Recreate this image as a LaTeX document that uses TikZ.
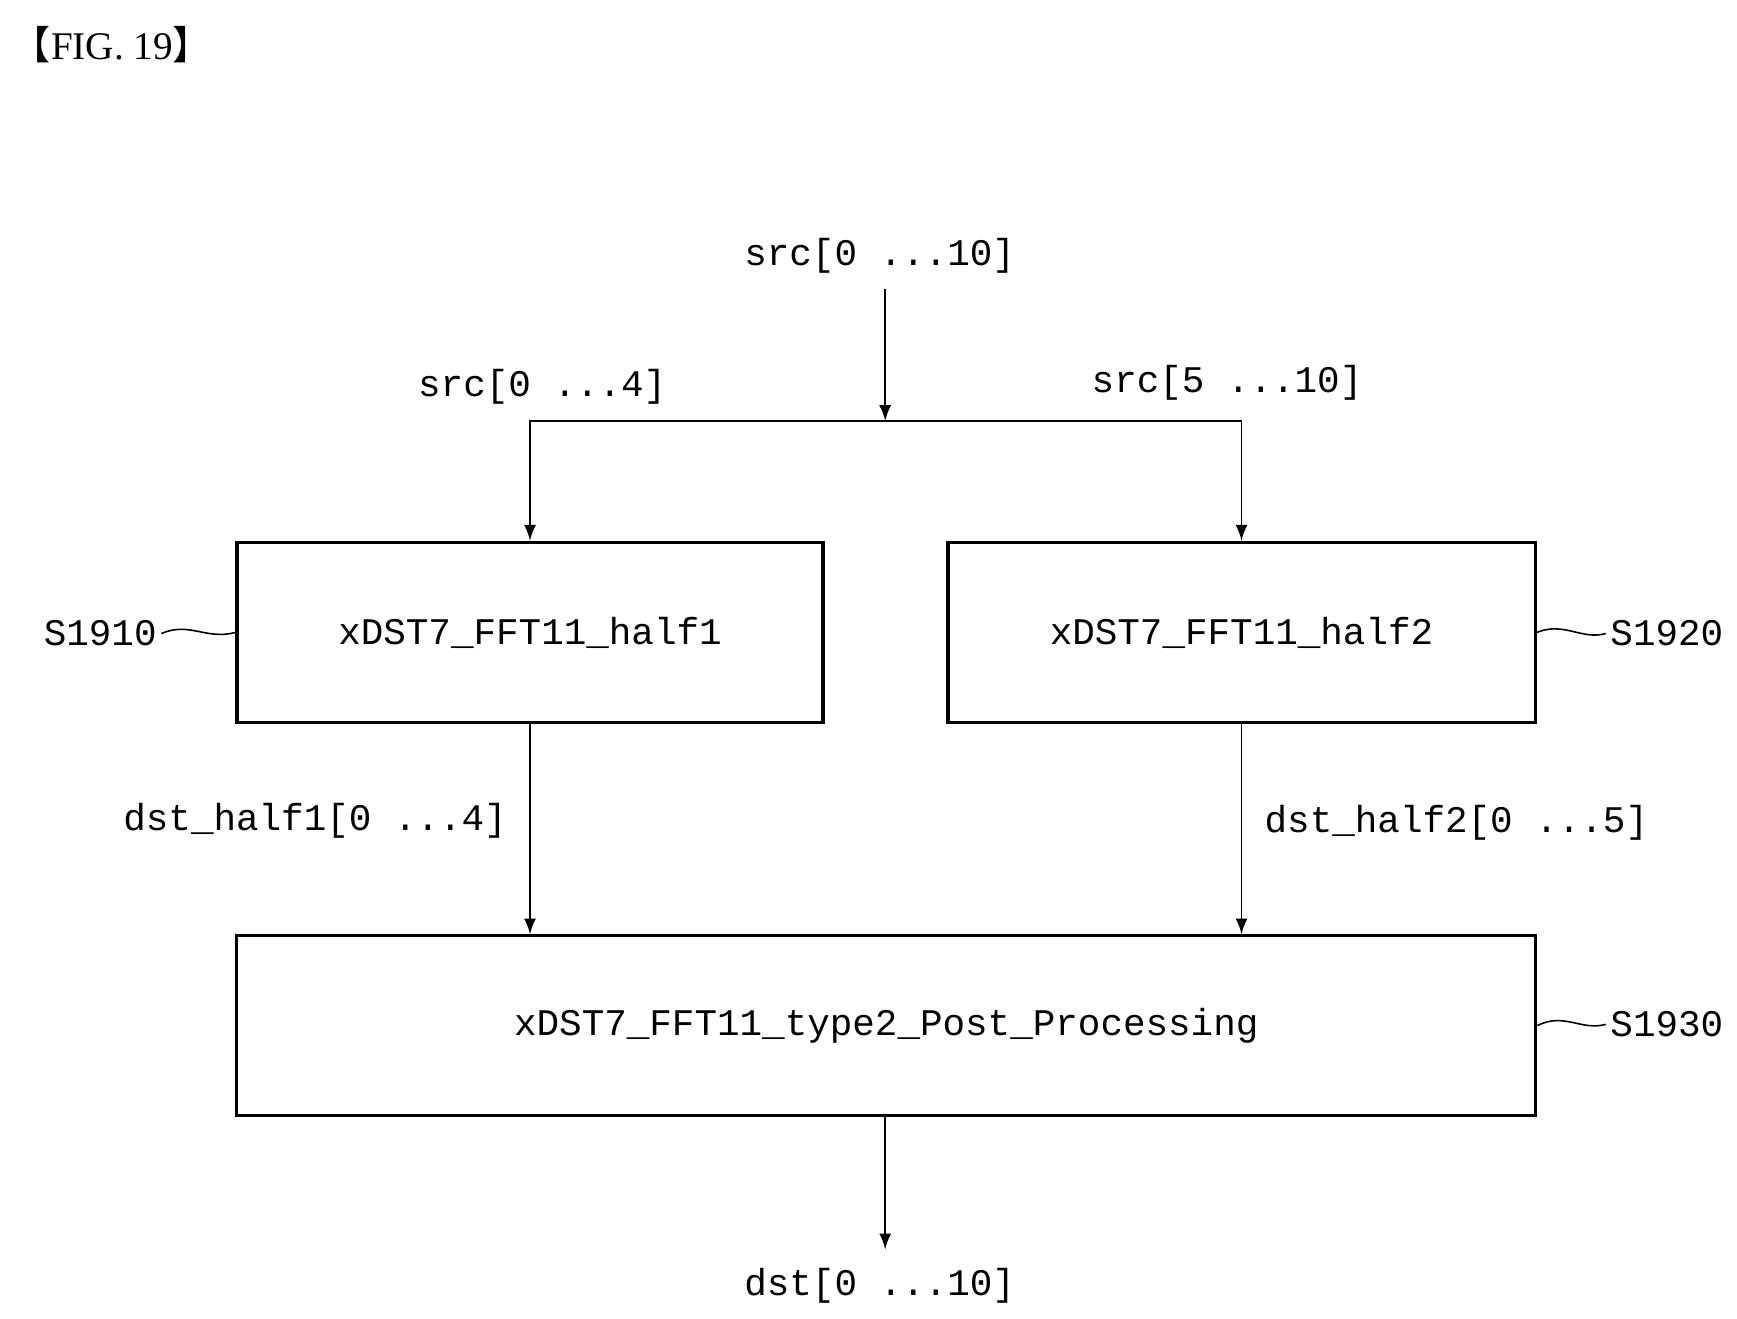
\documentclass[tikz,border=0pt]{standalone}
\usepackage{fontspec}
\setmonofont{Liberation Mono}
\newfontfamily\cjk{Noto Sans CJK JP}
\newfontfamily\figfont{Liberation Serif}
\usetikzlibrary{positioning}

\begin{document}
\begin{tikzpicture}[
    x=0.01cm, y=-0.01cm,
    block/.style={rectangle, draw, line width=0.8pt, inner sep=0pt, font=\ttfamily\fontsize{9.6}{12}\selectfont},
    lbl/.style={font=\ttfamily\fontsize{9.6}{12}\selectfont, inner sep=1pt},
    flow/.style={-latex, thin},
    tilde/.style={thin}
  ]
    \useasboundingbox (0,0) rectangle (1560,1184);

    \node[font=\figfont\fontsize{10}{12}\selectfont, anchor=west, inner sep=0pt] (fig) at (10,40) {{\cjk 【}FIG. 19{\cjk 】}};

    % Input
    \node[lbl] (src) at (790,230) {src[0 ...10]};
    \coordinate (split) at (795,378);
    \draw[flow] (src.south -| split) ++(0,10) -- (split);

    % Half blocks
    \node[block, minimum width=5.26cm, minimum height=1.62cm] (half1) at (476,568) {xDST7\_FFT11\_half1};
    \node[block, minimum width=5.27cm, minimum height=1.62cm] (half2) at (1115,568) {xDST7\_FFT11\_half2};
    \draw[flow] (split) -| (half1.north);
    \draw[flow] (split) -| (half2.north);
    \node[lbl] (srcA) at (487,347) {src[0 ...4]};
    \node[lbl] (srcB) at (1102,344) {src[5 ...10]};

    % Post processing
    \node[block, minimum width=11.66cm, minimum height=1.61cm] (post) at (796,921) {xDST7\_FFT11\_type2\_Post\_Processing};
    \coordinate (inA) at (post.north -| half1.south);
    \coordinate (inB) at (post.north -| half2.south);
    \draw[flow] (half1.south) -- (inA);
    \draw[flow] (half2.south) -- (inB);
    \node[lbl] (dstA) at (283,737) {dst\_half1[0 ...4]};
    \node[lbl] (dstB) at (1308,739) {dst\_half2[0 ...5]};

    % Output
    \node[lbl] (dst) at (790,1155) {dst[0 ...10]};
    \coordinate (out) at (795,1122);
    \draw[flow] (post.south -| out) -- (out);

    % Step labels
    \node[lbl] (s1910) at (90,569) {S1910};
    \node[lbl] (s1920) at (1497,569) {S1920};
    \node[lbl] (s1930) at (1497,920) {S1930};
    \draw[tilde] (s1910.east) .. controls (170,558) and (185,575) .. (half1.west);
    \draw[tilde] (s1920.west) .. controls (1420,575) and (1405,558) .. (half2.east);
    \draw[tilde] (s1930.west) .. controls (1420,926) and (1405,909) .. (post.east);
\end{tikzpicture}
\end{document}
